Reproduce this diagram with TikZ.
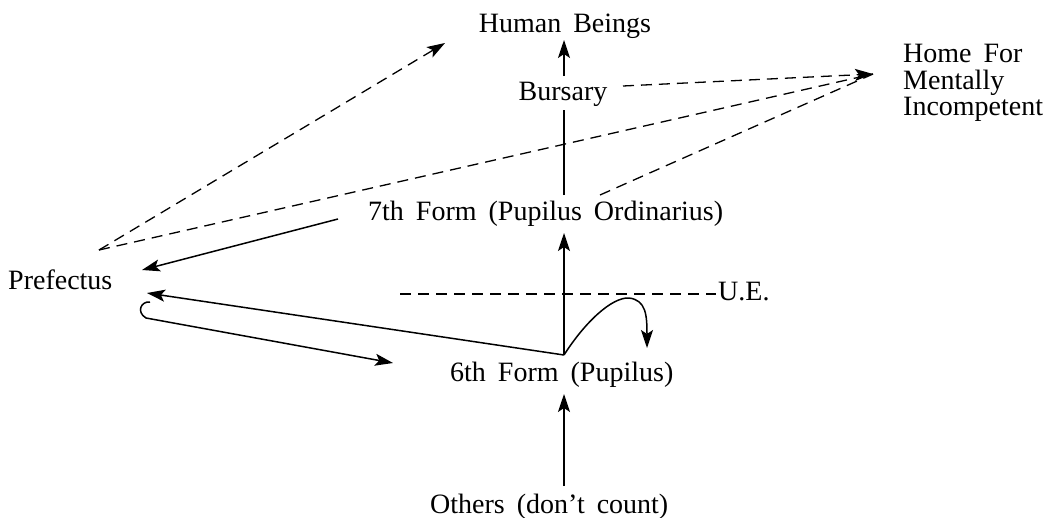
\documentclass[tikz,border=0pt]{standalone}
\usepackage{fontspec}
\setmainfont{Liberation Serif}
\usetikzlibrary{arrows.meta}
\newcommand{\widespace}{\spaceskip=12pt plus 1pt\relax}
\begin{document}
\begin{tikzpicture}[x=1pt,y=-1pt,
  lbl/.style={font=\rmfamily\fontsize{28}{26}\selectfont, inner sep=0pt, execute at begin node=\widespace},
  solidline/.style={line width=1.5pt},
  dashline/.style={line width=1.3pt, dash pattern=on 11pt off 7pt},
  tip/.style={-{Stealth[length=18pt,width=12pt,inset=4pt]}}
]
\useasboundingbox (0,0) rectangle (1058,517);

% labels
\node[lbl,anchor=base] (hb) at (565,32) {Human Beings};
\node[lbl,anchor=base] (bu) at (563,100) {Bursary};
\node[lbl,anchor=base west] (home) at (903,62) {\begin{tabular}[t]{@{}l@{}}Home For\\Mentally\\Incompetent\end{tabular}};
\node[lbl,anchor=base west] (sev) at (368,220) {7th Form (Pupilus Ordinarius)};
\node[lbl,anchor=base west] (pre) at (8,289) {Prefectus};
\node[lbl,anchor=base west] (ue) at (718,300) {U.E.};
\node[lbl,anchor=base west] (six) at (450,381) {6th Form (Pupilus)};
\node[lbl,anchor=base west] (oth) at (430,513) {Others (don’t count)};

% connector end points
\coordinate (apex) at (99,250);
\coordinate (hbtip) at (445,43);
\coordinate (hometip) at (873,74);
\coordinate (burr) at (623,86);
\coordinate (sevt) at (600,195);
\coordinate (sevl) at (338,219);
\coordinate (prea) at (142,270);
\coordinate (preb) at (147,293);
\coordinate (sixj) at (564,355);
\coordinate (hook) at (150,302);
\coordinate (hooktip) at (393,363);
\coordinate (looptip) at (647,348);
\coordinate (uel) at (400,294);
\coordinate (ser) at (716,294);
\coordinate (sevup) at (564,233);
\coordinate (sevtop) at (564,195);
\coordinate (bub) at (564,110);
\coordinate (but) at (564,76);
\coordinate (hbb) at (564,40);
\coordinate (sixtip) at (564,394);
\coordinate (otht) at (564,486);

% dashed connectors
\draw[dashline,tip] (apex) -- (hbtip);
\draw[dashline] (apex) -- (hometip);
\draw[dashline,tip] (burr) -- (hometip);
\draw[dashline] (sevt) -- (hometip);
\draw[dashline] (uel) -- (ser);

% solid connectors
\draw[solidline,tip] (sevl) -- (prea);
\draw[solidline,tip] (sixj) -- (preb);
\draw[solidline,tip] (sixj) -- (sevup);
\draw[solidline] (sevtop) -- (bub);
\draw[solidline,tip] (but) -- (hbb);
\draw[solidline,tip] (otht) -- (sixtip);
\draw[solidline,tip] (hook) .. controls (141,301) and (136,312) .. (146,318) -- (hooktip);
\draw[solidline,tip] (sixj) .. controls (585,322) and (612,297) .. (629,298)
  .. controls (646,300) and (647,315) .. (looptip);
\end{tikzpicture}
\end{document}
